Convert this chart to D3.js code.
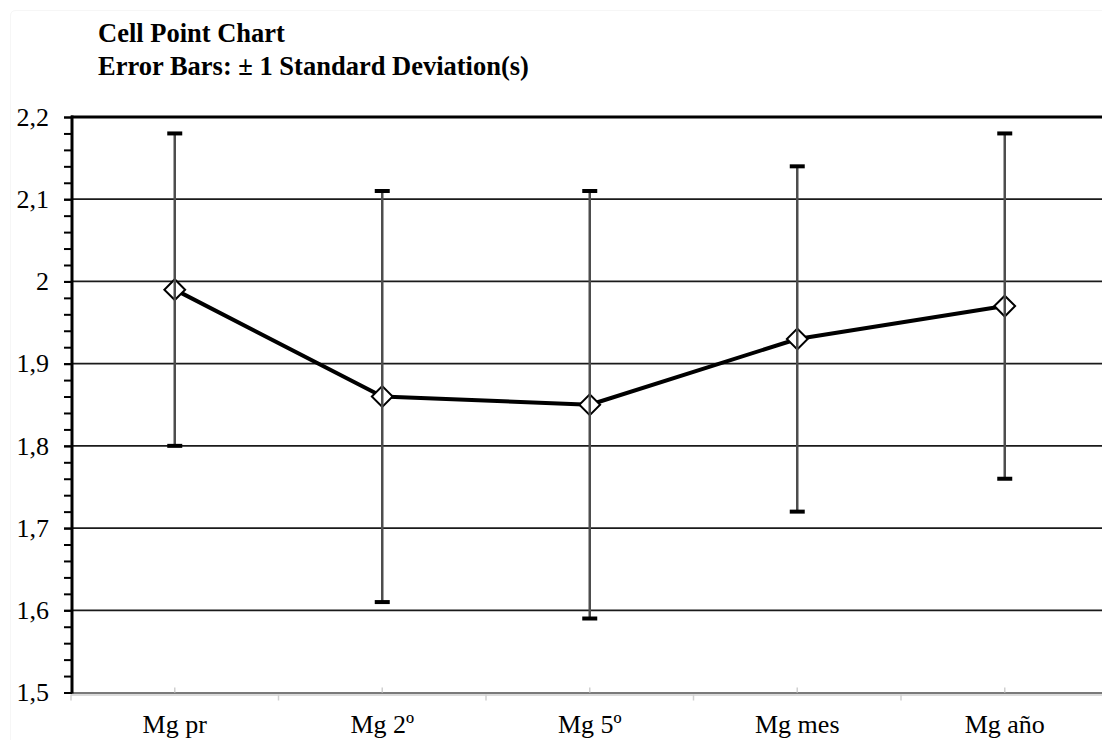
<!DOCTYPE html>
<html>
<head>
<meta charset="utf-8">
<script src="https://cdn.jsdelivr.net/npm/d3@7"></script>
<style>
  html, body { margin: 0; padding: 0; background: #fff; }
  svg { display: block; }
  text { font-family: "Liberation Serif", "Times New Roman", serif; fill: #000; }
</style>
</head>
<body>
<svg id="chart" width="1102" height="740"></svg>
<script>
// Cell means with ±1 SD error bars
const categories = ["Mg pr", "Mg 2º", "Mg 5º", "Mg mes", "Mg año"];
const means      = [1.99, 1.86, 1.85, 1.93, 1.97];
const sdUpper    = [2.18, 2.11, 2.11, 2.14, 2.18];
const sdLower    = [1.80, 1.61, 1.59, 1.72, 1.76];

const yMajorTicks  = [1.5, 1.6, 1.7, 1.8, 1.9, 2.0, 2.1, 2.2];
const yTickLabels  = ["1,5", "1,6", "1,7", "1,8", "1,9", "2", "2,1", "2,2"];
const yMinorTicks  = d3.range(0, 36).map(i => +(1.5 + i * 0.02).toFixed(2));

const titleLines = ["Cell Point Chart", "Error Bars: ± 1 Standard Deviation(s)"];

(function draw() {
  const svg = d3.select("#chart");
  const W = 1102, H = 740;
  const plotLeft = 72, plotTop = 117, plotBottom = 692.5, plotRight = 1108.5;

  const x = d3.scaleBand().domain(categories).range([plotLeft - 1, plotRight]).padding(0);
  const y = d3.scaleLinear().domain([1.5, 2.2]).range([plotBottom, plotTop]);

  // faint outer frame (top-left corner only)
  svg.append("path")
    .attr("d", `M10.5,${H} V16 Q10.5,10.5 16,10.5 H${W}`)
    .attr("fill", "none").attr("stroke", "#f6f6f6").attr("stroke-width", 1);

  // title
  svg.append("g").selectAll("text")
    .data(titleLines)
    .join("text")
    .attr("x", 98)
    .attr("y", (d, i) => 42 + i * 33)
    .attr("font-size", 26.5)
    .attr("font-weight", "bold")
    .text(d => d);

  // horizontal gridlines
  svg.append("g")
    .selectAll("line")
    .data(yMajorTicks.filter(v => v > 1.5 && v < 2.2))
    .join("line")
    .attr("x1", plotLeft).attr("x2", W)
    .attr("y1", d => y(d)).attr("y2", d => y(d))
    .attr("stroke", "#1a1a1a").attr("stroke-width", 1.8);

  // top border
  svg.append("line")
    .attr("x1", plotLeft - 1).attr("x2", W)
    .attr("y1", y(2.2)).attr("y2", y(2.2))
    .attr("stroke", "#000").attr("stroke-width", 3);

  // x axis: double grey baseline
  svg.append("line")
    .attr("x1", plotLeft - 1).attr("x2", W)
    .attr("y1", plotBottom + 0.5).attr("y2", plotBottom + 0.5)
    .attr("stroke", "#7a7a7a").attr("stroke-width", 2);
  svg.append("line")
    .attr("x1", plotLeft - 1).attr("x2", W)
    .attr("y1", plotBottom + 2.5).attr("y2", plotBottom + 2.5)
    .attr("stroke", "#cfcfcf").attr("stroke-width", 1.5);

  // x ticks: up at category centres, down at band boundaries
  svg.append("g").selectAll("line")
    .data(categories)
    .join("line")
    .attr("x1", d => x(d) + x.bandwidth() / 2).attr("x2", d => x(d) + x.bandwidth() / 2)
    .attr("y1", plotBottom - 5).attr("y2", plotBottom)
    .attr("stroke", "#d0d0d0").attr("stroke-width", 1.5);
  svg.append("g").selectAll("line")
    .data(categories)
    .join("line")
    .attr("x1", d => x(d)).attr("x2", d => x(d))
    .attr("y1", plotBottom + 2).attr("y2", plotBottom + 8)
    .attr("stroke", "#d0d0d0").attr("stroke-width", 1.5);

  // x labels
  svg.append("g").selectAll("text")
    .data(categories)
    .join("text")
    .attr("x", d => x(d) + x.bandwidth() / 2)
    .attr("y", 733)
    .attr("text-anchor", "middle")
    .attr("font-size", 26)
    .text(d => d);

  // y axis: minor ticks
  const minorAxis = d3.axisLeft(y).tickValues(yMinorTicks).tickSize(8).tickFormat("");
  const gMinor = svg.append("g").attr("transform", `translate(${plotLeft},0)`).call(minorAxis);
  gMinor.select(".domain").remove();
  gMinor.selectAll(".tick line").attr("stroke", "#000").attr("stroke-width", 2);

  // y axis: major ticks with labels
  const majorAxis = d3.axisLeft(y)
    .tickValues(yMajorTicks)
    .tickSize(8)
    .tickPadding(15)
    .tickFormat((d, i) => yTickLabels[i]);
  const gMajor = svg.append("g").attr("transform", `translate(${plotLeft},0)`).call(majorAxis);
  gMajor.select(".domain").remove();
  gMajor.selectAll(".tick line").attr("stroke", "#000").attr("stroke-width", 2);
  gMajor.selectAll(".tick text")
    .attr("font-family", "'Liberation Serif', 'Times New Roman', serif")
    .attr("font-size", 26)
    .attr("fill", "#000");

  // y axis line
  svg.append("line")
    .attr("x1", plotLeft).attr("x2", plotLeft)
    .attr("y1", plotTop - 1.5).attr("y2", plotBottom + 1)
    .attr("stroke", "#000").attr("stroke-width", 3);

  const cx = d => x(d) + x.bandwidth() / 2;
  const pts = categories.map((c, i) => ({ c, m: means[i], hi: sdUpper[i], lo: sdLower[i] }));

  // mean line
  svg.append("path")
    .datum(pts)
    .attr("fill", "none")
    .attr("stroke", "#000")
    .attr("stroke-width", 4)
    .attr("stroke-linejoin", "round")
    .attr("d", d3.line().x(d => cx(d.c)).y(d => y(d.m)));

  // diamond markers
  const diamond = d3.symbol().type(d3.symbolSquare).size(215);
  svg.append("g").selectAll("path")
    .data(pts)
    .join("path")
    .attr("d", diamond)
    .attr("transform", d => `translate(${cx(d.c)},${y(d.m)}) rotate(45)`)
    .attr("fill", "#fff")
    .attr("stroke", "#000")
    .attr("stroke-width", 2);

  // error bars
  const eb = svg.append("g");
  eb.selectAll("line.stem")
    .data(pts)
    .join("line")
    .attr("class", "stem")
    .attr("x1", d => cx(d.c)).attr("x2", d => cx(d.c))
    .attr("y1", d => y(d.hi)).attr("y2", d => y(d.lo))
    .attr("stroke", "#4d4d4d").attr("stroke-width", 2.5);
  ["hi", "lo"].forEach(k => {
    eb.selectAll("line.cap-" + k)
      .data(pts)
      .join("line")
      .attr("class", "cap-" + k)
      .attr("x1", d => cx(d.c) - 7.5).attr("x2", d => cx(d.c) + 7.5)
      .attr("y1", d => y(d[k])).attr("y2", d => y(d[k]))
      .attr("stroke", "#000").attr("stroke-width", 4);
  });
})();
</script>
</body>
</html>
